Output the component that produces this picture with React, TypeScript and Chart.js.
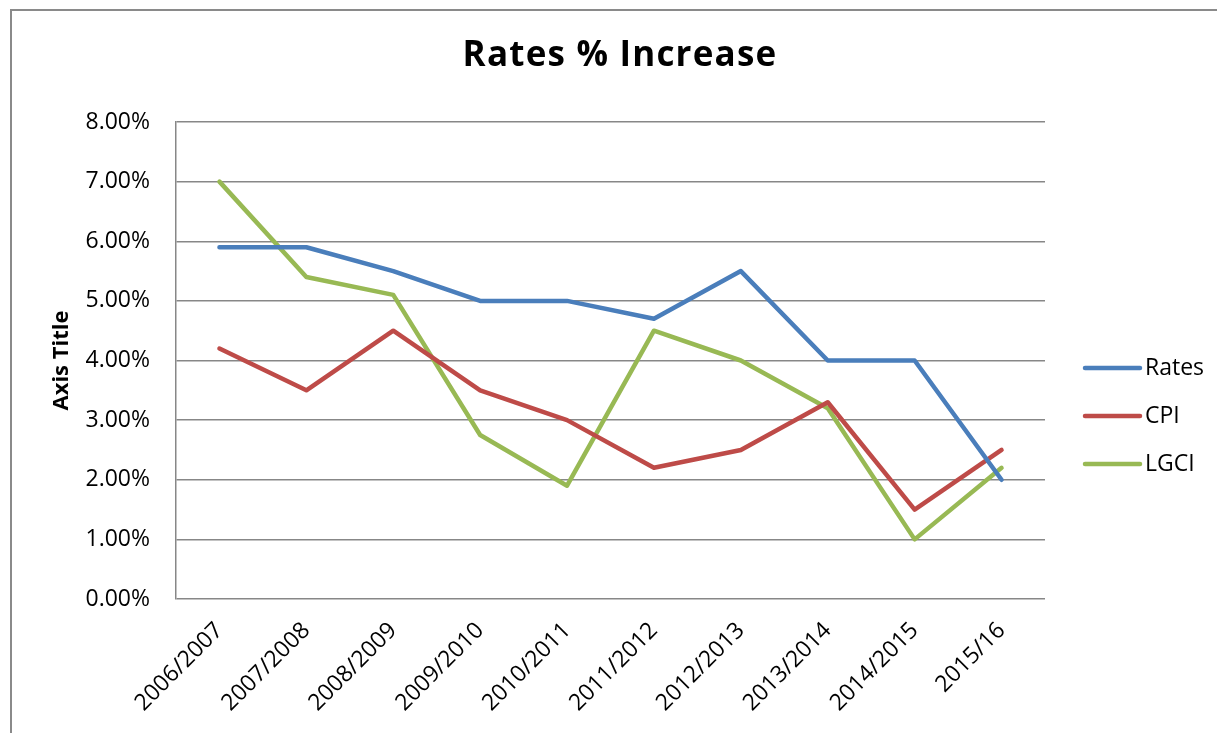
import React, { useEffect, useRef } from "react";
import { Chart, registerables } from "chart.js";

Chart.register(...registerables);

const categories = [
  "2006/2007", "2007/2008", "2008/2009", "2009/2010", "2010/2011",
  "2011/2012", "2012/2013", "2013/2014", "2014/2015", "2015/16",
];
const rates = [5.9, 5.9, 5.5, 5.0, 5.0, 4.7, 5.5, 4.0, 4.0, 2.0];
const cpi = [4.2, 3.5, 4.5, 3.5, 3.0, 2.2, 2.5, 3.3, 1.5, 2.5];
const lgci = [7.0, 5.4, 5.1, 2.75, 1.9, 4.5, 4.0, 3.2, 1.0, 2.2];
const seriesNames = ["Rates", "CPI", "LGCI"];
const seriesColors = ["#4A7EBB", "#BE4B48", "#98B954"];
const chartTitle = "Rates % Increase";
const yAxisTitle = "Axis Title";

const FONT = "'Open Sans', 'Noto Sans', sans-serif";
const W = 1217;
const H = 733;

const framePlugin = {
  id: "frame",
  beforeDraw(chart: any) {
    const ctx = chart.ctx;
    ctx.save();
    ctx.fillStyle = "#ffffff";
    ctx.fillRect(0, 0, chart.width, chart.height);
    ctx.strokeStyle = "#8a8a8a";
    ctx.lineWidth = 2;
    ctx.beginPath();
    ctx.moveTo(11, chart.height + 2);
    ctx.lineTo(11, 10);
    ctx.lineTo(chart.width + 2, 10);
    ctx.stroke();
    ctx.restore();
  },
  afterDraw(chart: any) {
    const ctx = chart.ctx;
    ctx.save();
    ctx.fillStyle = "#000";
    ctx.font = `bold 35px ${FONT}`;
    (ctx as any).letterSpacing = "1.2px";
    ctx.textAlign = "center";
    ctx.textBaseline = "middle";
    ctx.fillText(chartTitle, 620, 56);
    ctx.restore();
  },
};

const legendPlugin = {
  id: "sideLegend",
  afterDraw(chart: any) {
    const ctx = chart.ctx;
    const area = chart.chartArea;
    const x0 = area.right + 40;
    const ys = [368, 416, 464];
    ctx.save();
    chart.data.datasets.forEach((ds: any, i: number) => {
      const y = ys[i];
      ctx.strokeStyle = ds.borderColor;
      ctx.lineWidth = 4.5;
      ctx.lineCap = "round";
      ctx.beginPath();
      ctx.moveTo(x0, y);
      ctx.lineTo(x0 + 55, y);
      ctx.stroke();
      ctx.fillStyle = "#000";
      ctx.font = `23px ${FONT}`;
      ctx.textAlign = "left";
      ctx.textBaseline = "middle";
      ctx.fillText(ds.label, x0 + 60, y);
    });
    ctx.restore();
  },
};

export default function App() {
  const ref = useRef<HTMLCanvasElement>(null);

  useEffect(() => {
    document.body.style.margin = "0";
    const canvas = ref.current;
    if (!canvas) return;
    const values = [rates, cpi, lgci];
    const chart = new Chart(canvas, {
      type: "line",
      data: {
        labels: categories,
        datasets: values.map((v, i) => ({
          label: seriesNames[i],
          data: v,
          borderColor: seriesColors[i],
          backgroundColor: seriesColors[i],
          borderWidth: 4.5,
          pointRadius: 0,
          pointHoverRadius: 0,
          tension: 0,
          borderCapStyle: "round" as const,
          borderJoinStyle: "round" as const,
        })),
      },
      options: {
        responsive: false,
        animation: false,
        events: [],
        layout: { padding: { left: 0, right: 172, top: 122, bottom: 0 } },
        plugins: {
          legend: { display: false },
          tooltip: { enabled: false },
          title: { display: false },
        },
        scales: {
          x: {
            offset: true,
            grid: { display: false, drawTicks: false },
            border: { display: false },
            ticks: {
              color: "#000",
              font: { family: FONT, size: 23 },
              minRotation: 45,
              maxRotation: 45,
              autoSkip: false,
              padding: 18,
            },
            afterFit(scale: any) {
              scale.height = 134;
            },
          },
          y: {
            min: 0,
            max: 8,
            grid: { color: "#878787", lineWidth: 1.5, drawTicks: false },
            border: { display: true, color: "#878787", width: 1.5 },
            ticks: {
              stepSize: 1,
              color: "#000",
              font: { family: FONT, size: 23 },
              padding: 26,
              callback: (v: any) => Number(v).toFixed(2) + "%",
            },
            title: {
              display: true,
              text: yAxisTitle,
              color: "#000",
              font: { family: FONT, size: 22, weight: "bold", lineHeight: 1.2 },
              padding: { top: 49, bottom: 0 },
            },
            afterFit(scale: any) {
              scale.width = 176;
            },
          },
        },
      },
      plugins: [framePlugin, legendPlugin],
    });
    return () => chart.destroy();
  }, []);

  return (
    <div style={{ width: W, height: H }}>
      <canvas ref={ref} width={W} height={H} style={{ display: "block" }} />
    </div>
  );
}
